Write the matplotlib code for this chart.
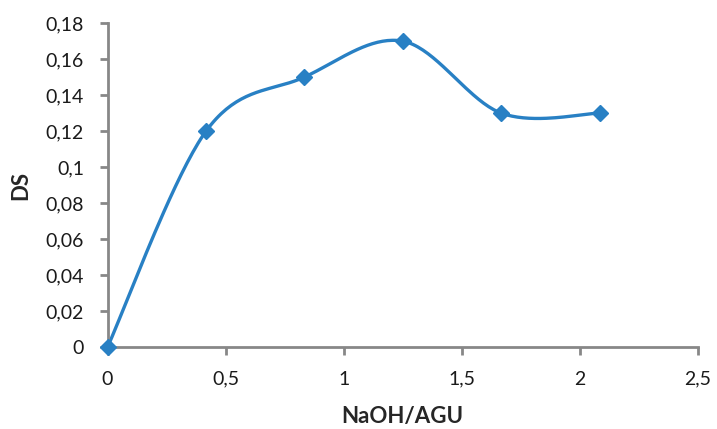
import numpy as np
import matplotlib
matplotlib.use('Agg')
import matplotlib.pyplot as plt
from matplotlib.ticker import FuncFormatter

# NaOH/AGU ratio vs degree of substitution
naoh_agu = [0, 0.417, 0.833, 1.25, 1.667, 2.083]
ds = [0, 0.12, 0.15, 0.17, 0.13, 0.13]

x_ticks = [0, 0.5, 1, 1.5, 2, 2.5]
y_ticks = [0, 0.02, 0.04, 0.06, 0.08, 0.1, 0.12, 0.14, 0.16, 0.18]

blue = '#2880c4'
axis_gray = '#878787'


def comma(v, pos=None):
    return ('%g' % round(v, 4)).replace('.', ',')


def smooth_curve(ax, xs, ys, n=40):
    # bezier smoothing done in screen space, control points from neighbours
    pts = ax.transData.transform(np.column_stack([xs, ys]))
    out = []
    for i in range(len(pts) - 1):
        p0 = pts[i - 1] if i > 0 else pts[i]
        p1 = pts[i]
        p2 = pts[i + 1]
        p3 = pts[i + 2] if i + 2 < len(pts) else pts[i + 1]
        c1 = p1 + (p2 - p0) / 6.0
        c2 = p2 - (p3 - p1) / 6.0
        t = np.linspace(0, 1, n)[:, None]
        seg = ((1 - t) ** 3) * p1 + 3 * ((1 - t) ** 2) * t * c1 + 3 * (1 - t) * t ** 2 * c2 + t ** 3 * p2
        out.append(seg if i == 0 else seg[1:])
    out = np.vstack(out)
    return ax.transData.inverted().transform(out)


plt.rcParams['font.family'] = ['Lato', 'DejaVu Sans']

fig = plt.figure(figsize=(7.17, 4.29), dpi=100)
ax = fig.add_axes([0.150, 0.191, 0.8235, 0.755])
ax.set_xlim(0, 2.5)
ax.set_ylim(0, 0.18)

curve = smooth_curve(ax, naoh_agu, ds)
ax.plot(curve[:, 0], curve[:, 1], color=blue, lw=2.4, clip_on=False, solid_capstyle='round')
ax.plot(naoh_agu, ds, linestyle='none', marker='D', ms=8, color=blue, clip_on=False, zorder=5)

ax.set_xticks(x_ticks)
ax.set_yticks(y_ticks)
ax.xaxis.set_major_formatter(FuncFormatter(comma))
ax.yaxis.set_major_formatter(FuncFormatter(comma))

for s in ['top', 'right']:
    ax.spines[s].set_visible(False)
for s in ['left', 'bottom']:
    ax.spines[s].set_color(axis_gray)
    ax.spines[s].set_linewidth(2)
ax.tick_params(direction='out', length=6, width=2, color=axis_gray,
               labelsize=14, labelcolor='#1a1a1a')
ax.tick_params(axis='x', pad=11)
ax.tick_params(axis='y', pad=11)

ax.set_xlabel('NaOH/AGU', fontsize=16, fontweight='bold', color='#262626', labelpad=13)
ax.set_ylabel('DS', fontsize=16, fontweight='bold', color='#262626', labelpad=10)

fig.savefig('out.png', dpi=100)
